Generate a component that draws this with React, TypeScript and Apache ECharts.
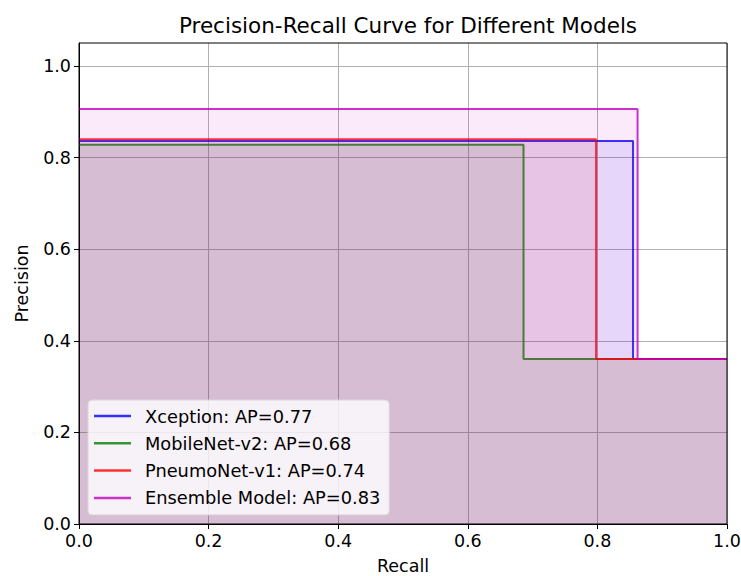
import React, { useEffect, useRef } from "react";
import * as echarts from "echarts";

const modelNames = [
  "Xception: AP=0.77",
  "MobileNet-v2: AP=0.68",
  "PneumoNet-v1: AP=0.74",
  "Ensemble Model: AP=0.83",
];
const recallBreak = [0.855, 0.686, 0.798, 0.862];
const highPrecision = [0.836, 0.828, 0.84, 0.906];
const lowPrecision = [0.36, 0.36, 0.36, 0.36];
const lineColors = [
  "rgba(0,0,255,0.8)",
  "rgba(0,128,0,0.8)",
  "rgba(255,0,0,0.8)",
  "rgba(191,0,191,0.8)",
];
const fillColors = [
  "rgba(0,0,255,0.12)",
  "rgba(0,128,0,0.12)",
  "rgba(255,0,0,0.12)",
  "rgba(191,0,191,0.12)",
];
const yTicks = [0, 0.2, 0.4, 0.6, 0.8, 1.0];

const FONT = "DejaVu Sans";

export default function App() {
  const ref = useRef<HTMLDivElement>(null);
  useEffect(() => {
    if (!ref.current) return;
    const chart = echarts.init(ref.current, null, { renderer: "svg" });
    const series = modelNames.map((name, i) => ({
      name,
      type: "line",
      step: "end",
      showSymbol: false,
      symbol: "none",
      data: [
        [0, highPrecision[i]],
        [recallBreak[i], lowPrecision[i]],
        [1, lowPrecision[i]],
      ],
      lineStyle: { color: lineColors[i], width: 2 },
      itemStyle: { color: lineColors[i] },
      areaStyle: { color: fillColors[i], origin: "start" },
      z: 2 + i,
    }));
    const fmt = (v: number) => {
      const k = v * 5;
      if (Math.abs(k - Math.round(k)) > 1e-6) return "";
      return v.toFixed(1);
    };
    chart.setOption({
      animation: false,
      backgroundColor: "#fff",
      title: {
        text: "Precision-Recall Curve for Different Models",
        left: 403,
        top: 9,
        textAlign: "center",
        textStyle: {
          fontFamily: FONT,
          fontSize: 21.5,
          fontWeight: "normal",
          color: "#000",
        },
      },
      grid: {
        left: 79,
        right: 14,
        top: 43,
        bottom: 52,
        show: true,
        borderColor: "#000",
        borderWidth: 1,
        backgroundColor: "transparent",
        containLabel: false,
        outerBoundsMode: "none",
        z: 10,
      },
      legend: {
        orient: "vertical",
        left: 88,
        top: 400,
        padding: [6, 9, 7, 6],
        itemGap: 7.3,
        itemWidth: 37,
        itemHeight: 2.5,
        icon: "rect",
        backgroundColor: "rgba(255,255,255,0.8)",
        borderColor: "#d6d6d6",
        borderWidth: 1,
        borderRadius: 4,
        textStyle: {
          fontFamily: FONT,
          fontSize: 17.8,
          color: "#000",
          lineHeight: 20,
          padding: [0, 0, 0, 9],
        },
        z: 20,
      },
      xAxis: {
        type: "value",
        min: 0,
        max: 1,
        interval: 0.2,
        name: "Recall",
        nameLocation: "middle",
        nameGap: 33,
        nameTextStyle: { fontFamily: FONT, fontSize: 17.5, color: "#000" },
        axisLine: { show: true, onZero: false, lineStyle: { color: "#000", width: 1 } },
        axisTick: { show: true, length: 5, lineStyle: { color: "#000" } },
        axisLabel: {
          fontFamily: FONT,
          fontSize: 17.5,
          color: "#000",
          margin: 8,
          formatter: (v: number) => v.toFixed(1),
        },
        splitLine: { show: true, lineStyle: { color: "#b0b0b0", width: 1 } },
      },
      yAxis: {
        type: "value",
        min: 0,
        max: 1.05,
        interval: 0.2,
        name: "Precision",
        nameLocation: "middle",
        nameGap: 48,
        nameTextStyle: { fontFamily: FONT, fontSize: 17.5, color: "#000" },
        axisLine: { show: true, lineStyle: { color: "#000", width: 1 } },
        axisTick: {
          show: true,
          length: 5,
          lineStyle: { color: "#000" },
          customValues: yTicks,
        },
        axisLabel: {
          fontFamily: FONT,
          fontSize: 17.5,
          color: "#000",
          margin: 8,
          formatter: fmt,
          customValues: yTicks,
        },
        splitLine: { show: true, lineStyle: { color: "#b0b0b0", width: 1 } },
      },
      series,
    });
    return () => chart.dispose();
  }, []);
  return (
    <div
      ref={ref}
      style={{ width: 741, height: 576, position: "absolute", left: 0, top: 0 }}
    />
  );
}
